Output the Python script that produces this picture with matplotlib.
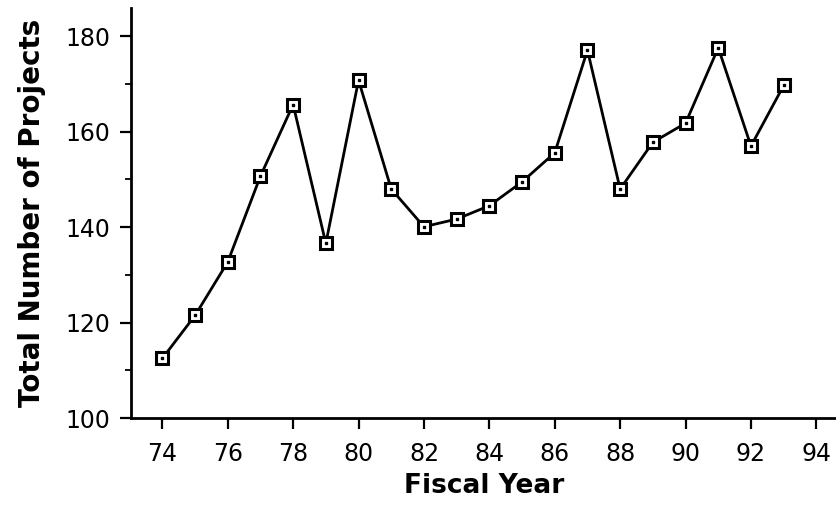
import matplotlib.pyplot as plt
from matplotlib.ticker import MultipleLocator

# fiscal years and project counts
years = [74, 75, 76, 77, 78, 79, 80, 81, 82, 83,
         84, 85, 86, 87, 88, 89, 90, 91, 92, 93]
projects = [112.5, 121.5, 132.7, 150.7, 165.7, 136.6, 170.8, 148.0, 140.1, 141.7,
            144.5, 149.5, 155.6, 177.1, 148.0, 157.8, 161.8, 177.6, 157.0, 169.7]

fig = plt.figure(figsize=(8.36, 5.13), dpi=100)
ax = fig.add_axes([0.157, 0.185, 0.843, 0.80])

ax.plot(years, projects, color='black', linewidth=2.0,
        marker='s', markersize=8.5, markerfacecolor='white',
        markeredgecolor='black', markeredgewidth=2.2)
# small dot in the centre of each square
ax.plot(years, projects, linestyle='none', marker='s', markersize=2,
        color='black')

ax.set_xlim(73.05, 94.6)
ax.set_ylim(100, 186)
ax.xaxis.set_major_locator(MultipleLocator(2))
ax.yaxis.set_major_locator(MultipleLocator(20))
ax.yaxis.set_minor_locator(MultipleLocator(10))

for s in ['top', 'right']:
    ax.spines[s].set_visible(False)
for s in ['left', 'bottom']:
    ax.spines[s].set_linewidth(2.0)

ax.tick_params(axis='both', which='major', direction='out', length=8,
               width=1.6, labelsize=17, pad=7)
ax.tick_params(axis='x', which='major', pad=9)
ax.tick_params(axis='y', which='minor', direction='out', length=4, width=1.3)

ax.set_xlabel('Fiscal Year', fontsize=19, fontweight='heavy', labelpad=5)
ax.set_ylabel('Total Number of Projects', fontsize=20, fontweight='heavy',
              labelpad=14)

fig.savefig('out.png', dpi=100)
